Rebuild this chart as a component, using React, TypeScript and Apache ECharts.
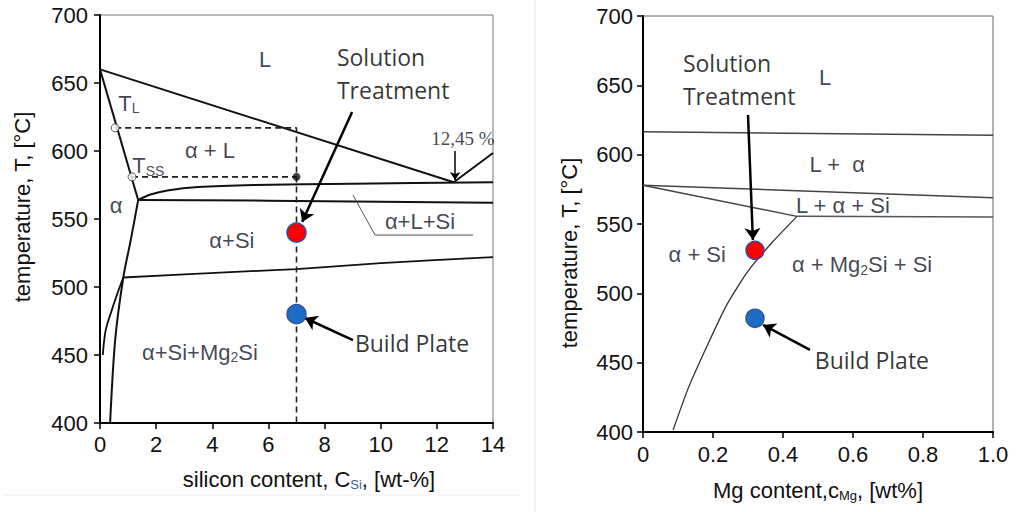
import React, { useEffect, useRef } from 'react';
import * as echarts from 'echarts';

// ---------- Left panel: Al–Si diagram (x: silicon content wt-%, y: °C) ----------
const siLiquidus = [[0, 660], [12.6, 577], [14, 598.5]];
const siSolidus = [[0, 660], [1.36, 564]];
const siSolvus = [[1.36, 564], [1.1, 535], [0.83, 507], [0.54, 461], [0.36, 400]];
const siMg2SiSolvus = [[0.1, 450], [0.2, 468], [0.42, 483], [0.65, 497], [0.83, 507]];
const siTernary = [[0.83, 507], [5, 511.3], [7, 513.2], [10, 517.5], [14, 522]];
const siEutecticUpper = [[1.36, 564], [1.8, 568], [2.4, 571], [3.5, 573.5], [5.5, 575], [9, 576], [14, 577]];
const siEutecticLower = [[1.36, 564], [6, 563.5], [14, 562]];
const siDashTL = [[0.54, 617], [7, 617], [7, 400]];
const siDashTSS = [[1.14, 581], [7, 581]];
const siOpenMarks = [[0.54, 617], [1.14, 581]];
const siBlackMark = [[7, 581]];
const siSolutionPoint = [[7, 540]];
const siBuildPoint = [[7, 480]];
const siLeader = [[9.01, 567.6], [9.8, 538.2], [13.29, 538.2]];
const siArrows = [
  [[8.98, 628.7], [7.2, 547.8]],
  [[9.01, 461], [7.3, 477.2]],
];
const siSmallArrow = [[[12.65, 600], [12.65, 578.7]]];
const siLabels = [
  { text: 'L', x: 5.88, t: 667 },
  { text: '{m|T}{s|L}', x: 1.03, t: 635 },
  { text: 'α + L', x: 3.92, t: 600.5 },
  { text: '{m|T}{s|SS}', x: 1.72, t: 589 },
  { text: 'α', x: 0.57, t: 560 },
  { text: 'α+Si', x: 4.7, t: 534 },
  { text: 'α+L+Si', x: 11.4, t: 548 },
  { text: '{m|α+Si+Mg}{s|2}{m|Si}', x: 3.56, t: 452 },
];
const siPercentLabel = [{ text: '12,45 %', x: 12.93, t: 609 }];
const siNotes = [
  { text: 'Solution\nTreatment', x: 8.44, t: 657 },
  { text: 'Build Plate', x: 9.08, t: 459 },
];

// ---------- Right panel: Mg content diagram (x: Mg wt%, y: °C) ----------
const mgLiquidus = [[0, 616.5], [1, 614]];
const mgEutecticUpper = [[0, 578], [1, 569]];
const mgEutecticLower = [[0, 578], [0.44, 555.5]];
const mgTernary = [[0.44, 555.5], [1, 555]];
const mgSolvus = [[0.44, 555.5], [0.37, 537], [0.3, 516], [0.24, 492], [0.183, 462], [0.13, 432], [0.086, 401.5]];
const mgSolutionPoint = [[0.32, 531]];
const mgBuildPoint = [[0.32, 482]];
const mgArrows = [
  [[0.3, 628.6], [0.314, 538.5]],
  [[0.477, 459.2], [0.343, 477.2]],
];
const mgLabels = [
  { text: 'L', x: 0.52, t: 656 },
  { text: 'L +  α', x: 0.555, t: 592.6 },
  { text: 'L + α + Si', x: 0.571, t: 563.7 },
  { text: 'α + Si', x: 0.155, t: 527.7 },
  { text: '{m|α + Mg}{s|2}{m|Si + Si}', x: 0.626, t: 520.5 },
];
const mgNotes = [
  { text: 'Solution\nTreatment', x: 0.114, t: 654 },
  { text: 'Build Plate', x: 0.491, t: 452 },
];

const ARIAL = '"Liberation Sans", Arial, sans-serif';
const NOTE_FONT = '"Open Sans", sans-serif';
const LABEL_COLOR = '#121629';

function lineSeries(data: number[][], gi: number, color: string, width: number, extra: any = {}) {
  return {
    type: 'line',
    xAxisIndex: gi,
    yAxisIndex: gi,
    data,
    symbol: 'none',
    showSymbol: false,
    silent: true,
    z: 3,
    lineStyle: { color, width, type: 'solid', ...(extra.lineStyle || {}) },
    smooth: extra.smooth || false,
  };
}

function labelSeries(items: any[], gi: number, opts: any) {
  return {
    type: 'scatter',
    xAxisIndex: gi,
    yAxisIndex: gi,
    symbolSize: 0,
    silent: true,
    z: 6,
    data: items.map((it) => ({
      value: [it.x, it.t],
      label: {
        show: true,
        position: [0, 0],
        formatter: it.text,
        align: opts.align || 'center',
        verticalAlign: 'middle',
      },
    })),
    label: {
      show: true,
      color: opts.color,
      fontSize: opts.fontSize,
      fontFamily: opts.fontFamily,
      lineHeight: opts.lineHeight,
      rich: {
        m: { fontSize: opts.fontSize, fontFamily: opts.fontFamily, color: opts.color },
        s: { fontSize: Math.round(opts.fontSize * 0.62), fontFamily: opts.fontFamily, color: opts.color, padding: [10, 0, 0, 0] },
      },
    },
  };
}

function arrowSeries(arrs: number[][][], gi: number, width: number, size: number) {
  return {
    type: 'lines',
    coordinateSystem: 'cartesian2d',
    xAxisIndex: gi,
    yAxisIndex: gi,
    silent: true,
    z: 7,
    symbol: ['none', 'arrow'],
    symbolSize: size,
    lineStyle: { color: '#000', width, opacity: 1, curveness: 0 },
    data: arrs.map((c) => ({ coords: c })),
  };
}

function dotSeries(data: number[][], gi: number, fill: string, border: string, size: number) {
  return {
    type: 'scatter',
    xAxisIndex: gi,
    yAxisIndex: gi,
    data,
    symbol: 'circle',
    symbolSize: size,
    silent: true,
    z: 8,
    itemStyle: { color: fill, borderColor: border, borderWidth: 1.5, opacity: 1 },
  };
}

function axisBase() {
  return {
    axisLine: { show: true, onZero: false, lineStyle: { color: '#000', width: 2 } },
    axisTick: { show: true, inside: false, length: 6, lineStyle: { color: '#000', width: 1.5 } },
    splitLine: { show: false },
  };
}

export default function App() {
  const ref = useRef<HTMLDivElement>(null);

  useEffect(() => {
    if (!ref.current) return;
    const chart = echarts.init(ref.current, null, { renderer: 'svg' });

    const option: any = {
      animation: false,
      backgroundColor: '#ffffff',
      grid: [
        { left: 100, top: 15, width: 393, height: 408, show: true, borderColor: '#777', borderWidth: 1, backgroundColor: 'transparent' },
        { left: 643, top: 16, width: 350, height: 416, show: true, borderColor: '#666', borderWidth: 1, backgroundColor: 'transparent' },
      ],
      xAxis: [
        {
          type: 'value', gridIndex: 0, min: 0, max: 14, interval: 2,
          ...axisBase(),
          axisLabel: { color: '#111', fontSize: 22, fontFamily: ARIAL, margin: 10 },
        },
        {
          type: 'value', gridIndex: 1, min: 0, max: 1, interval: 0.2,
          ...axisBase(),
          axisLabel: {
            color: '#111', fontSize: 22, fontFamily: ARIAL, margin: 11,
            formatter: (v: number) => (v === 0 ? '0' : v.toFixed(1)),
          },
        },
      ],
      yAxis: [
        {
          type: 'value', gridIndex: 0, min: 400, max: 700, interval: 50,
          ...axisBase(),
          axisLabel: { color: '#111', fontSize: 22, fontFamily: ARIAL, margin: 12 },
        },
        {
          type: 'value', gridIndex: 1, min: 400, max: 700, interval: 50,
          ...axisBase(),
          axisLabel: { color: '#111', fontSize: 22, fontFamily: ARIAL, margin: 10 },
        },
      ],
      graphic: [
        { type: 'line', shape: { x1: 535, y1: 0, x2: 535, y2: 512 }, style: { stroke: '#e6e6e6', lineWidth: 1 }, silent: true },
        { type: 'line', shape: { x1: 3, y1: 495, x2: 520, y2: 495 }, style: { stroke: '#ececec', lineWidth: 1 }, silent: true },
        {
          type: 'text', x: 22, y: 207, rotation: Math.PI / 2, silent: true,
          style: { text: 'temperature, T, [°C]', fontSize: 22, fontFamily: ARIAL, fill: '#111', align: 'center', verticalAlign: 'middle' },
        },
        {
          type: 'text', x: 569, y: 253, rotation: Math.PI / 2, silent: true,
          style: { text: 'temperature, T, [°C]', fontSize: 22, fontFamily: ARIAL, fill: '#111', align: 'center', verticalAlign: 'middle' },
        },
        {
          type: 'text', x: 309, y: 479, silent: true,
          style: {
            text: '{m|silicon content, C}{s|Si}{m|, [wt-%]}',
            align: 'center', verticalAlign: 'middle', fill: '#111',
            rich: {
              m: { fontSize: 22, fontFamily: ARIAL, fill: '#111' },
              s: { fontSize: 13, fontFamily: ARIAL, fill: '#3a5a9a', padding: [10, 0, 0, 0] },
            },
          },
        },
        {
          type: 'text', x: 818, y: 490, silent: true,
          style: {
            text: '{m|Mg content,c}{s|Mg}{m|, [wt%]}',
            align: 'center', verticalAlign: 'middle', fill: '#111',
            rich: {
              m: { fontSize: 22, fontFamily: ARIAL, fill: '#111' },
              s: { fontSize: 13, fontFamily: ARIAL, fill: '#111', padding: [10, 0, 0, 0] },
            },
          },
        },
      ],
      series: [
        // left panel lines
        lineSeries(siLiquidus, 0, '#111', 2),
        lineSeries(siSolidus, 0, '#111', 2),
        lineSeries(siSolvus, 0, '#111', 2, { smooth: 0.3 }),
        lineSeries(siMg2SiSolvus, 0, '#111', 1.8, { smooth: 0.3 }),
        lineSeries(siTernary, 0, '#111', 1.8, { smooth: 0.2 }),
        lineSeries(siEutecticUpper, 0, '#111', 2, { smooth: 0.3 }),
        lineSeries(siEutecticLower, 0, '#111', 2),
        lineSeries(siDashTL, 0, '#222', 1.6, { lineStyle: { type: [6, 4] } }),
        lineSeries(siDashTSS, 0, '#222', 1.6, { lineStyle: { type: [6, 4] } }),
        lineSeries(siLeader, 0, '#555', 1),
        {
          type: 'scatter', xAxisIndex: 0, yAxisIndex: 0, data: siOpenMarks, symbol: 'circle', symbolSize: 8, silent: true, z: 5,
          itemStyle: { color: '#fff', borderColor: '#333', borderWidth: 1 },
        },
        {
          type: 'scatter', xAxisIndex: 0, yAxisIndex: 0, data: siBlackMark, symbol: 'circle', symbolSize: 8, silent: true, z: 5,
          itemStyle: { color: '#111' },
        },
        labelSeries(siLabels, 0, { color: LABEL_COLOR, fontSize: 22, fontFamily: ARIAL }),
        labelSeries(siPercentLabel, 0, { color: LABEL_COLOR, fontSize: 19, fontFamily: '"Liberation Serif", serif' }),
        labelSeries(siNotes, 0, { color: '#000', fontSize: 23, fontFamily: NOTE_FONT, align: 'left', lineHeight: 33 }),
        arrowSeries(siArrows, 0, 2.5, 12),
        arrowSeries(siSmallArrow, 0, 1.5, 8),
        dotSeries(siSolutionPoint, 0, '#ff0000', '#2f4f9f', 19),
        dotSeries(siBuildPoint, 0, '#1f6cc4', '#2f5597', 19),

        // right panel lines
        lineSeries(mgLiquidus, 1, '#444', 1.5),
        lineSeries(mgEutecticUpper, 1, '#444', 1.5),
        lineSeries(mgEutecticLower, 1, '#444', 1.5),
        lineSeries(mgTernary, 1, '#555', 1.5),
        lineSeries(mgSolvus, 1, '#333', 1.3, { smooth: 0.2 }),
        labelSeries(mgLabels, 1, { color: LABEL_COLOR, fontSize: 22, fontFamily: ARIAL }),
        labelSeries(mgNotes, 1, { color: '#000', fontSize: 23, fontFamily: NOTE_FONT, align: 'left', lineHeight: 33 }),
        arrowSeries(mgArrows, 1, 2.5, 12),
        dotSeries(mgSolutionPoint, 1, '#ff0000', '#2f4f9f', 18),
        dotSeries(mgBuildPoint, 1, '#1f6cc4', '#2f5597', 18),
      ],
    };

    chart.setOption(option);
    return () => {
      chart.dispose();
    };
  }, []);

  return (
    <div
      ref={ref}
      style={{ position: 'fixed', left: 0, top: 0, width: 1020, height: 512, background: '#fff' }}
    />
  );
}
